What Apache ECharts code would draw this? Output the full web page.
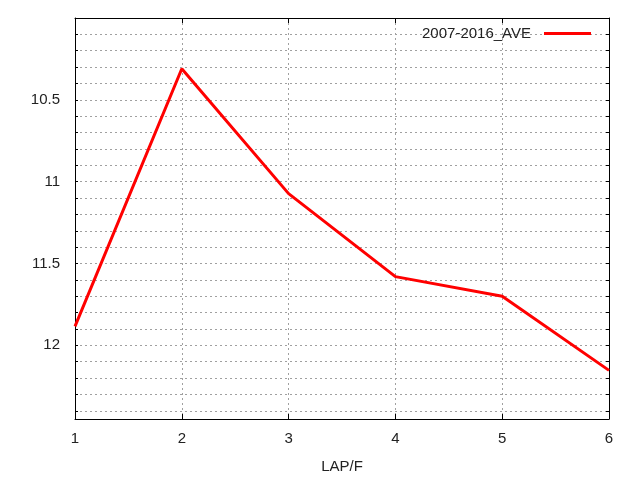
<!DOCTYPE html>
<html><head><meta charset="utf-8">
<script src="https://cdn.jsdelivr.net/npm/echarts@6/dist/echarts.min.js"></script>
<style>html,body{margin:0;padding:0;background:#fff}#c{width:640px;height:480px}</style>
</head><body><div id="c"></div>
<script>
const xValues = [1, 2, 3, 4, 5, 6];
const aveValues = [11.884, 10.31, 11.073, 11.58, 11.70, 12.153];
const seriesName = '2007-2016_AVE';
const xTitle = 'LAP/F';
const yLabels = [10.5, 11, 11.5, 12];

const chart = echarts.init(document.getElementById('c'), null, {renderer: 'canvas'});
const font = 'Liberation Sans, Arial, sans-serif';
const gridLine = {show: true, lineStyle: {color: '#a0a0a0', type: [2, 3], width: 1}};
const frame = {show: true, lineStyle: {color: '#000', width: 1}};
chart.setOption({
  animation: false,
  grid: {left: 75, right: 31, top: 18, bottom: 61, containLabel: false},
  legend: {
    top: 26, right: 49, padding: 0, align: 'right', itemWidth: 47, itemHeight: 3,
    icon: 'rect',
    textStyle: {fontFamily: font, fontSize: 15, color: '#222', padding: [0, 8, 0, 0]},
    data: [{name: seriesName, icon: 'rect'}]
  },
  xAxis: [{
    type: 'value', min: 1, max: 6, interval: 1, position: 'bottom',
    name: xTitle, nameLocation: 'middle', nameGap: 40,
    nameTextStyle: {fontFamily: font, fontSize: 15, color: '#222'},
    axisLine: frame,
    axisTick: {show: true, inside: true, length: 5, lineStyle: {color: '#000'}},
    axisLabel: {fontFamily: font, fontSize: 15, color: '#222', margin: 12},
    splitLine: gridLine
  }, {
    type: 'value', min: 1, max: 6, interval: 1, position: 'top',
    axisLine: frame,
    axisTick: {show: true, inside: true, length: 5, lineStyle: {color: '#000'}},
    axisLabel: {show: false}, splitLine: {show: false}
  }],
  yAxis: [{
    type: 'value', inverse: true, min: 10.0, max: 12.45, interval: 0.1, position: 'left',
    axisLine: frame,
    axisTick: {show: true, inside: true, length: 3, lineStyle: {color: '#000'}},
    axisLabel: {
      fontFamily: font, fontSize: 15, color: '#222', margin: 15,
      formatter: function (v) {
        for (const l of yLabels) { if (Math.abs(v - l) < 1e-6) return String(l); }
        return '';
      }
    },
    splitLine: gridLine
  }, {
    type: 'value', inverse: true, min: 10.0, max: 12.45, interval: 0.1, position: 'right',
    axisLine: frame,
    axisTick: {show: true, inside: true, length: 3, lineStyle: {color: '#000'}},
    axisLabel: {show: false}, splitLine: {show: false}
  }],
  series: [{
    name: seriesName, type: 'line', xAxisIndex: 0, yAxisIndex: 0,
    data: xValues.map((x, i) => [x, aveValues[i]]),
    showSymbol: false, symbol: 'none',
    lineStyle: {color: '#ff0000', width: 3},
    itemStyle: {color: '#ff0000'}
  }]
});
</script></body></html>
